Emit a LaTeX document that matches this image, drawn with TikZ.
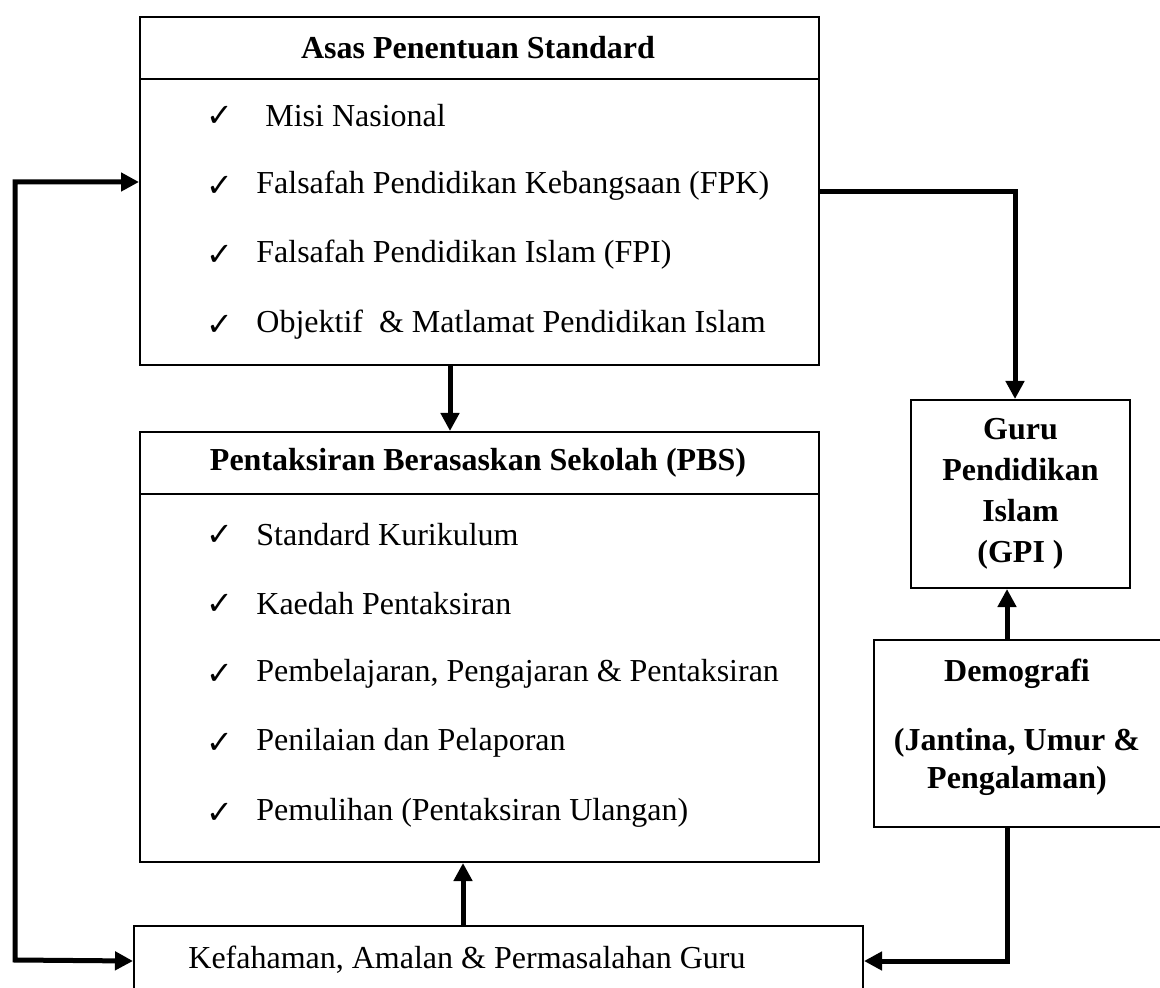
\documentclass[tikz,border=0pt]{standalone}
\usepackage{fontspec}
\setmainfont{Liberation Serif}
\newfontfamily\tandafont{DejaVu Sans}
\usetikzlibrary{arrows.meta}

\tikzset{
  kotak/.style={draw, line width=1pt, inner sep=0pt, anchor=north west},
  panah/.style={line width=2.5pt, line join=miter, -{Triangle[length=9pt,width=9pt]}},
  duapanah/.style={line width=2.5pt, line join=miter, {Triangle[length=9pt,width=9pt]}-{Triangle[length=9pt,width=9pt]}},
  item/.style={anchor=west, inner sep=0pt},
  tanda/.style={inner sep=0pt, font=\tandafont\fontsize{16}{18}\selectfont},
  tajuk/.style={inner sep=0pt, font=\bfseries\fontsize{16}{20}\selectfont},
}

\begin{document}
\begin{tikzpicture}[x=0.5pt,y=-0.5pt,font=\fontsize{16}{20}\selectfont]
\useasboundingbox (0,0) rectangle (1160,988);

% kotak utama
\node[kotak, minimum width=339.5pt, minimum height=174pt] (asas) at (139,16) {};
\node[kotak, minimum width=339.5pt, minimum height=215pt] (pbs) at (139,431) {};
\node[kotak, minimum width=364.5pt, minimum height=35pt] (kefahaman) at (133,925) {};
\node[kotak, minimum width=109.5pt, minimum height=94pt] (guru) at (910,399) {};
\node[kotak, minimum width=146pt, minimum height=93.5pt] (demo) at (873,639) {};

% garis tajuk
\coordinate (g1) at (0,79);
\coordinate (g2) at (0,494);
\draw[line width=1pt] (asas.west |- g1) -- (asas.east |- g1);
\draw[line width=1pt] (pbs.west |- g2) -- (pbs.east |- g2);

\node[tajuk] (tajukasas) at (478,48) {Asas Penentuan Standard};
\node[tajuk] (tajukpbs) at (478,463) {Pentaksiran Berasaskan Sekolah (PBS)};

% senarai asas
\node[tanda] (t1) at (220,116) {✓};
\node[item] (a1) at (265,116) {Misi Nasional};
\node[tanda] (t2) at (220,186) {✓};
\node[item] (a2) at (256,186) {Falsafah Pendidikan Kebangsaan (FPK)};
\node[tanda] (t3) at (220,255) {✓};
\node[item] (a3) at (256,255) {Falsafah Pendidikan Islam (FPI)};
\node[tanda] (t4) at (220,325) {✓};
\node[item] (a4) at (256,325) {Objektif\ \ \& Matlamat Pendidikan Islam};

% senarai pbs
\node[tanda] (t5) at (220,535) {✓};
\node[item] (b1) at (256,535) {Standard Kurikulum};
\node[tanda] (t6) at (220,604) {✓};
\node[item] (b2) at (256,604) {Kaedah Pentaksiran};
\node[tanda] (t7) at (220,674) {✓};
\node[item] (b3) at (256,674) {Pembelajaran, Pengajaran \& Pentaksiran};
\node[tanda] (t8) at (220,743) {✓};
\node[item] (b4) at (256,743) {Penilaian dan Pelaporan};
\node[tanda] (t9) at (220,813) {✓};
\node[item] (b5) at (256,813) {Pemulihan (Pentaksiran Ulangan)};

\node[item] (kefteks) at (188,960) {Kefahaman, Amalan \& Permasalahan Guru};

\node[align=center, font=\bfseries\fontsize{16}{20.5}\selectfont] (guruteks) at (guru.center) {Guru\\Pendidikan\\Islam\\(GPI )};
\node[align=center, font=\bfseries\fontsize{16}{19}\selectfont] (demoteks) at (1017,727) {Demografi\\[15.5pt](Jantina, Umur \&\\Pengalaman)};

% anak panah
\coordinate (kiri) at (15,960);
\coordinate (kiriatas) at (0,182);
\coordinate (kanan) at (1015,192);
\coordinate (tengah1) at (450,0);
\coordinate (tengah2) at (463,0);
\coordinate (demox) at (1007,0);

\draw[duapanah] (asas.west |- kiriatas) -| (kiri) -- (kefahaman.west);
\draw[panah] (asas.east |- kanan) -- (kanan) -- (kanan |- guru.north);
\draw[panah] (asas.south -| tengah1) -- (pbs.north -| tengah1);
\draw[panah] (kefahaman.north -| tengah2) -- (pbs.south -| tengah2);
\draw[panah] (demo.north -| demox) -- (guru.south -| demox);
\draw[panah] (demo.south -| demox) |- (kefahaman.east);
\end{tikzpicture}
\end{document}
